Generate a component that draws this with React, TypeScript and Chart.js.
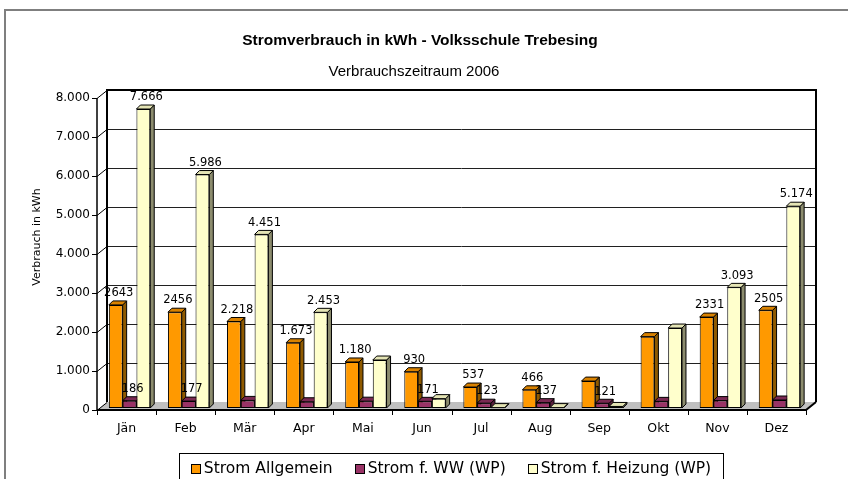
import React, { useEffect, useRef } from "react";
import { Chart, registerables } from "chart.js";

Chart.register(...registerables);

const categories = ["Jän", "Feb", "Mär", "Apr", "Mai", "Jun", "Jul", "Aug", "Sep", "Okt", "Nov", "Dez"];
const seriesNames = ["Strom Allgemein", "Strom f. WW (WP)", "Strom f. Heizung (WP)"];
const stromAllgemein = [2643, 2456, 2218, 1673, 1180, 930, 537, 466, 690, 1830, 2331, 2505];
const stromWW = [186, 177, 195, 160, 175, 171, 123, 137, 121, 170, 190, 205];
const stromHeizung = [7666, 5986, 4451, 2453, 1230, 240, 10, 10, 40, 2050, 3093, 5174];
const labelsAllgemein = ["2643", "2456", "2.218", "1.673", "1.180", "930", "537", "466", null, null, "2331", "2505"];
const labelsWW = ["186", "177", null, null, null, "171", "123", "137", "121", null, null, null];
const labelsHeizung = ["7.666", "5.986", "4.451", "2.453", null, null, null, null, null, null, "3.093", "5.174"];
const yMin = 0;
const yMax = 8000;
const yStep = 1000;
const titleText = "Stromverbrauch in kWh - Volksschule Trebesing";
const subtitleText = "Verbrauchszeitraum 2006";
const yAxisTitle = "Verbrauch in kWh";

const frontColors = ["#FF9900", "#993366", "#FFFFCC"];
const sideColors = ["#8f5a00", "#5a1e3c", "#8c8c6e"];
const topColors = ["#d98200", "#7a2952", "#e4e4b4"];

const DX = 10; // wall depth x
const DY = 8; // wall depth y
const BD = 4; // bar depth
const SHIFT_X = 3;
const SHIFT_Y = -2;

const fmt = (v: number) => String(v).replace(/\B(?=(\d{3})+(?!\d))/g, ".");

const labelSets = [labelsAllgemein, labelsWW, labelsHeizung];

const threeDPlugin = {
  id: "threeD",
  beforeDraw(chart: any) {
    const { ctx, chartArea: a, scales } = chart;
    const y = scales.y;
    const L = a.left, R = a.right, B = a.bottom;
    ctx.save();
    ctx.fillStyle = "#ffffff";
    ctx.fillRect(0, 0, chart.width, chart.height);
    // outer frame
    ctx.strokeStyle = "#7f7f7f";
    ctx.lineWidth = 2;
    ctx.beginPath();
    ctx.moveTo(5, chart.height + 2);
    ctx.lineTo(5, 10);
    ctx.lineTo(chart.width + 2, 10);
    ctx.stroke();
    // floor
    ctx.fillStyle = "#c0c0c0";
    ctx.beginPath();
    ctx.moveTo(L, B);
    ctx.lineTo(R, B);
    ctx.lineTo(R + DX, B - DY);
    ctx.lineTo(L + DX, B - DY);
    ctx.closePath();
    ctx.fill();
    // gridlines on back wall and left wall diagonals
    ctx.lineWidth = 1;
    y.ticks.forEach((t: any) => {
      const yy = Math.round(y.getPixelForValue(t.value)) + 0.5;
      ctx.strokeStyle = "#202020";
      if (t.value > yMin && t.value < yMax) {
        ctx.beginPath();
        ctx.moveTo(L + DX, yy - DY);
        ctx.lineTo(R + DX, yy - DY);
        ctx.stroke();
      }
      ctx.strokeStyle = "#000";
      ctx.beginPath();
      ctx.moveTo(L, yy);
      ctx.lineTo(L + DX, yy - DY);
      ctx.stroke();
      ctx.beginPath();
      ctx.moveTo(L - 5, yy);
      ctx.lineTo(L, yy);
      ctx.stroke();
    });
    const yTop = y.getPixelForValue(yMax);
    // back wall borders
    ctx.strokeStyle = "#000";
    ctx.lineWidth = 2;
    ctx.beginPath();
    ctx.moveTo(L + DX, B - DY);
    ctx.lineTo(L + DX, yTop - DY);
    ctx.lineTo(R + DX, yTop - DY);
    ctx.lineTo(R + DX, B - DY);
    ctx.stroke();
    // front y axis line
    ctx.lineWidth = 1.5;
    ctx.beginPath();
    ctx.moveTo(L, B);
    ctx.lineTo(L, yTop);
    ctx.stroke();
    // front x axis line + floor right edge
    ctx.lineWidth = 2;
    ctx.beginPath();
    ctx.moveTo(L, B);
    ctx.lineTo(R, B);
    ctx.lineTo(R + DX, B - DY);
    ctx.stroke();
    // x ticks at category boundaries
    ctx.lineWidth = 1;
    const n = categories.length;
    for (let i = 0; i <= n; i++) {
      const xx = Math.round(L + ((R - L) * i) / n) + 0.5;
      ctx.beginPath();
      ctx.moveTo(xx, B);
      ctx.lineTo(xx, B + 5);
      ctx.stroke();
    }
    ctx.restore();
  },
  beforeDatasetsDraw(chart: any) {
    const { ctx } = chart;
    ctx.save();
    ctx.translate(SHIFT_X, SHIFT_Y);
    const n = categories.length;
    for (let i = 0; i < n; i++) {
      for (let d = 0; d < chart.data.datasets.length; d++) {
        const meta = chart.getDatasetMeta(d);
        const bar = meta.data[i];
        if (!bar) continue;
        const { x, y, base, width } = bar.getProps(["x", "y", "base", "width"], true);
        const x1 = x - width / 2;
        const x2 = x + width / 2;
        ctx.lineWidth = 1;
        ctx.strokeStyle = "#000";
        // side face
        ctx.fillStyle = sideColors[d];
        ctx.beginPath();
        ctx.moveTo(x2, y);
        ctx.lineTo(x2 + BD, y - BD);
        ctx.lineTo(x2 + BD, base - BD);
        ctx.lineTo(x2, base);
        ctx.closePath();
        ctx.fill();
        ctx.stroke();
        // top face
        ctx.fillStyle = topColors[d];
        ctx.beginPath();
        ctx.moveTo(x1, y);
        ctx.lineTo(x1 + BD, y - BD);
        ctx.lineTo(x2 + BD, y - BD);
        ctx.lineTo(x2, y);
        ctx.closePath();
        ctx.fill();
        ctx.stroke();
      }
    }
  },
  afterDatasetsDraw(chart: any) {
    const { ctx } = chart;
    ctx.restore();
    ctx.save();
    ctx.font = '11.5px "DejaVu Sans"';
    ctx.fillStyle = "#000";
    ctx.textAlign = "center";
    ctx.textBaseline = "bottom";
    for (let d = 0; d < chart.data.datasets.length; d++) {
      const meta = chart.getDatasetMeta(d);
      const labels = labelSets[d];
      meta.data.forEach((bar: any, i: number) => {
        const txt = labels[i];
        if (!txt) return;
        const { x, y } = bar.getProps(["x", "y"], true);
        ctx.fillText(txt, x + SHIFT_X + 3, y + SHIFT_Y - BD - 2);
      });
    }
    ctx.restore();
  },
  afterDraw(chart: any) {
    const { ctx } = chart;
    ctx.save();
    ctx.fillStyle = "#000";
    ctx.textAlign = "center";
    ctx.textBaseline = "middle";
    ctx.font = 'bold 15.5px "Liberation Sans"';
    ctx.fillText(titleText, 420, 41);
    ctx.font = '15px "Liberation Sans"';
    ctx.fillText(subtitleText, 414, 72);
    // y axis title
    ctx.save();
    ctx.translate(37, 237);
    ctx.rotate(-Math.PI / 2);
    ctx.font = '11px "DejaVu Sans"';
    ctx.fillText(yAxisTitle, 0, 0);
    ctx.restore();
    // legend
    ctx.font = '15.5px "DejaVu Sans"';
    const box = { left: 179, top: 453, right: 723 };
    ctx.strokeStyle = "#000";
    ctx.lineWidth = 1;
    ctx.strokeRect(box.left + 0.5, box.top + 0.5, box.right - box.left, 60);
    const sq = 9;
    const gapSq = 4;
    const gapItem = 22;
    const widths = seriesNames.map((s) => ctx.measureText(s).width);
    const total = widths.reduce((s, w) => s + sq + gapSq + w, 0) + gapItem * (seriesNames.length - 1);
    let x = (box.left + box.right) / 2 - total / 2;
    const cy = 469;
    ctx.textAlign = "left";
    seriesNames.forEach((name, i) => {
      ctx.fillStyle = frontColors[i];
      ctx.fillRect(Math.round(x) + 0.5, cy - 5 + 0.5, sq, sq);
      ctx.strokeStyle = "#000";
      ctx.strokeRect(Math.round(x) + 0.5, cy - 5 + 0.5, sq, sq);
      ctx.fillStyle = "#000";
      ctx.fillText(name, x + sq + gapSq, cy);
      x += sq + gapSq + widths[i] + gapItem;
    });
    ctx.restore();
  },
};

export default function App() {
  const canvasRef = useRef<HTMLCanvasElement | null>(null);
  useEffect(() => {
    if (!canvasRef.current) return;
    const dataSets = [stromAllgemein, stromWW, stromHeizung];
    const chart = new Chart(canvasRef.current, {
      type: "bar",
      data: {
        labels: categories,
        datasets: dataSets.map((data, i) => ({
          label: seriesNames[i],
          data,
          backgroundColor: frontColors[i],
          borderColor: "#000",
          borderWidth: 1,
          borderSkipped: false,
          categoryPercentage: 0.7,
          barPercentage: 1.0,
        })),
      },
      options: {
        responsive: false,
        animation: false,
        devicePixelRatio: 1,
        layout: { padding: { top: 98, left: 0, right: 42, bottom: 39 } },
        plugins: {
          legend: { display: false },
          title: { display: false },
          tooltip: { enabled: false },
        },
        scales: {
          x: {
            type: "category",
            offset: true,
            grid: { display: false, drawTicks: false, tickLength: 0 },
            border: { display: false },
            ticks: {
              color: "#000",
              font: { family: "DejaVu Sans", size: 12.5 },
              padding: 11,
              maxRotation: 0,
              autoSkip: false,
            },
            afterFit: (scale: any) => {
              scale.height = 30;
            },
          },
          y: {
            min: yMin,
            max: yMax,
            grid: { display: false, drawTicks: false, tickLength: 0 },
            border: { display: false },
            ticks: {
              stepSize: yStep,
              color: "#000",
              font: { family: "DejaVu Sans", size: 12 },
              padding: 7,
              callback: (v: any) => fmt(Number(v)),
            },
            afterFit: (scale: any) => {
              scale.width = 97;
            },
          },
        },
      },
      plugins: [threeDPlugin],
    });
    return () => chart.destroy();
  }, []);
  return (
    <div style={{ position: "fixed", left: 0, top: 0, width: 848, height: 479, background: "#fff" }}>
      <canvas ref={canvasRef} width={848} height={479} style={{ display: "block", width: 848, height: 479 }} />
    </div>
  );
}
